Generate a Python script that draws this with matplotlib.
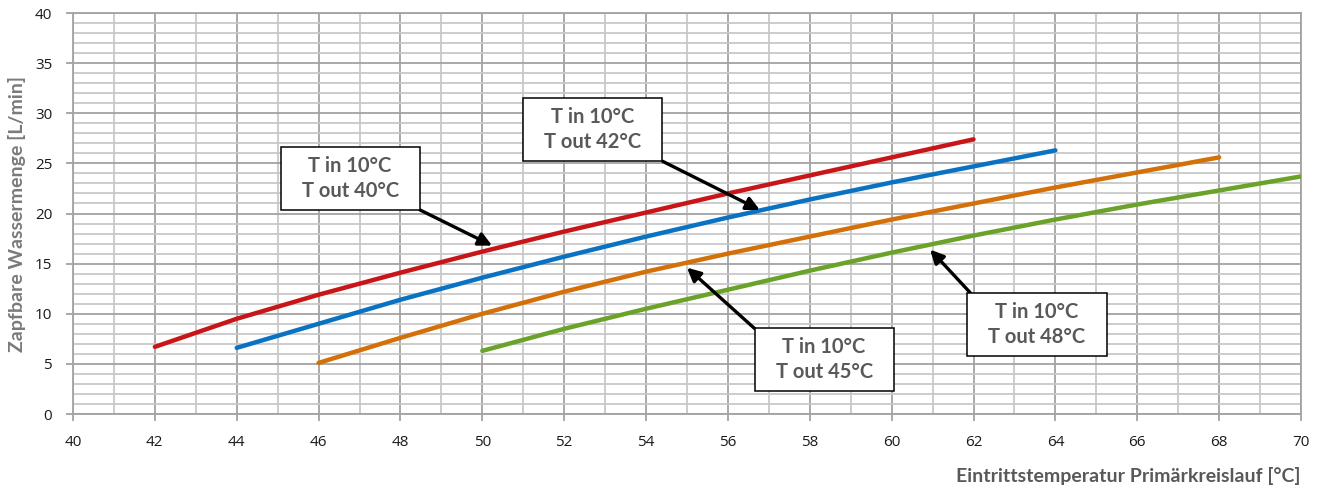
import matplotlib
matplotlib.use("Agg")
import matplotlib.pyplot as plt
from matplotlib.patches import Rectangle
from matplotlib.ticker import MultipleLocator

# Eintrittstemperatur [°C] / Zapfbare Wassermenge [L/min]
t_40 = [42, 44, 46, 48, 50, 52, 54, 56, 58, 60, 62]
q_40 = [6.7, 9.5, 11.9, 14.1, 16.2, 18.2, 20.1, 22.0, 23.8, 25.6, 27.4]

t_42 = [44, 46, 48, 50, 52, 54, 56, 58, 60, 62, 64]
q_42 = [6.6, 9.0, 11.4, 13.6, 15.7, 17.7, 19.6, 21.4, 23.1, 24.7, 26.3]

t_45 = [46, 48, 50, 52, 54, 56, 58, 60, 62, 64, 66, 68]
q_45 = [5.1, 7.6, 10.0, 12.2, 14.2, 16.0, 17.7, 19.4, 21.0, 22.6, 24.1, 25.6]

t_48 = [50, 52, 54, 56, 58, 60, 62, 64, 66, 68, 70]
q_48 = [6.3, 8.5, 10.5, 12.4, 14.3, 16.1, 17.8, 19.4, 20.9, 22.3, 23.7]

labels = ["T in 10°C\nT out 40°C", "T in 10°C\nT out 42°C",
          "T in 10°C\nT out 45°C", "T in 10°C\nT out 48°C"]
colors = ["#C81618", "#0A72C2", "#D4700A", "#6BA22A"]

# box centre, arrow tail, arrow head (data coords)
box_xy = [(46.77, 23.5), (52.70, 28.4), (58.35, 5.4), (63.55, 8.9)]
tail_xy = [(48.48, 20.35), (54.41, 25.2), (56.66, 8.5), (61.92, 12.1)]
head_xy = [(50.24, 16.8), (56.78, 20.35), (55.0, 14.6), (60.94, 16.4)]
box_w, box_h = 3.40, 6.28

fig = plt.figure(figsize=(13.22, 4.95), dpi=100)
ax = fig.add_axes([0.0552, 0.1636, 0.9289, 0.8101])

ax.set_xlim(40, 70)
ax.set_ylim(0, 40)
ax.xaxis.set_major_locator(MultipleLocator(2))
ax.xaxis.set_minor_locator(MultipleLocator(1))
ax.yaxis.set_major_locator(MultipleLocator(5))
ax.yaxis.set_minor_locator(MultipleLocator(1))
ax.grid(which="minor", color="#C8C8C8", lw=1.3, zorder=0)
ax.grid(which="major", color="#A3A3A3", lw=1.3, zorder=0)
ax.set_axisbelow(True)
for s in ax.spines.values():
    s.set_color("#A3A3A3")
    s.set_linewidth(1.3)
ax.tick_params(which="major", length=5, color="#A3A3A3", width=1.3,
               labelsize=11, labelcolor="#1a1a1a", pad=10)
ax.tick_params(which="minor", length=0)
for lab in ax.get_xticklabels() + ax.get_yticklabels():
    lab.set_family("Open Sans")

for t, q, c in zip([t_40, t_42, t_45, t_48], [q_40, q_42, q_45, q_48], colors):
    ax.plot(t, q, color=c, lw=3.2, solid_capstyle="round", zorder=3)

for lab, b, tl, hd in zip(labels, box_xy, tail_xy, head_xy):
    ax.annotate("", xy=hd, xytext=tl,
                arrowprops=dict(arrowstyle="-|>", color="black", lw=2.4,
                                mutation_scale=20, shrinkA=0, shrinkB=0),
                zorder=4)
    ax.add_patch(Rectangle((b[0] - box_w / 2, b[1] - box_h / 2), box_w, box_h,
                           facecolor="white", edgecolor="black", lw=1.1, zorder=5))
    ax.text(b[0], b[1], lab, ha="center", va="center", fontsize=14.5,
            fontweight="bold", color="#595959", family="Lato",
            linespacing=1.3, zorder=6)

ax.set_ylabel("Zapfbare Wassermenge [L/min]", fontsize=14, fontweight="bold",
              color="#7a7a7a", family="Lato", labelpad=6)
fig.text(0.984, 0.02, "Eintrittstemperatur Primärkreislauf [°C]", ha="right",
         va="bottom", fontsize=14, fontweight="bold", color="#595959", family="Lato")

fig.savefig("out.png", dpi=100)
